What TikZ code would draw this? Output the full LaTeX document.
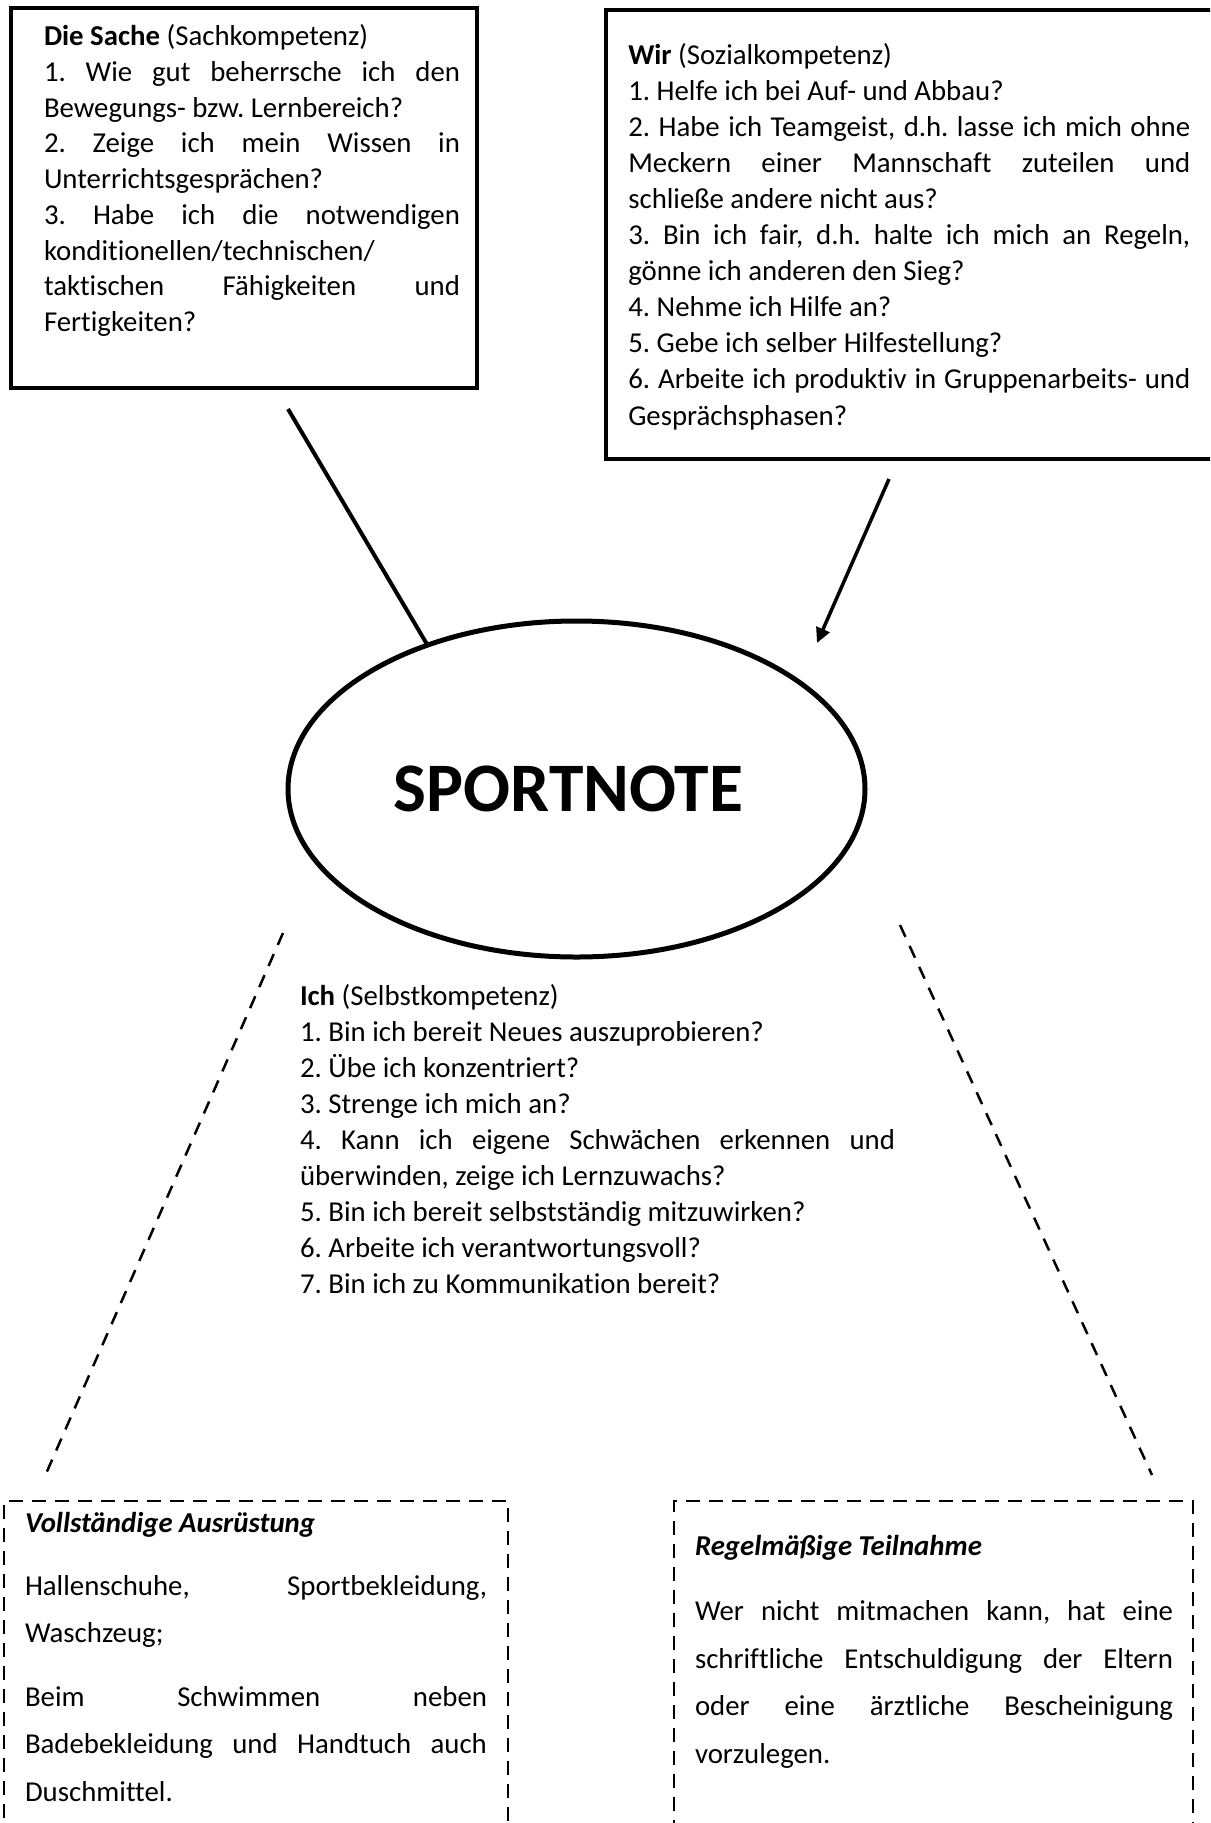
\documentclass[tikz,border=0pt]{standalone}
\usepackage{fontspec}
\setmainfont{Carlito}[Ligatures={NoCommon}]
\usetikzlibrary{shapes.geometric,arrows.meta}
\frenchspacing
\newcommand\jline[1]{\makebox[\linewidth][s]{#1}\par}
\newcommand\pline[1]{#1\par}
\begin{document}
\frenchspacing
\begin{tikzpicture}[x=1pt,y=-1pt,
  solidbox/.style={draw, line width=4pt, inner sep=0pt, outer sep=0pt, anchor=north west},
  dashbox/.style={draw, line width=2.5pt, dash pattern=on 14pt off 9pt, inner sep=0pt, outer sep=0pt, anchor=north west},
  txt/.style={anchor=base west, inner sep=0pt, outer sep=0pt},
  link/.style={line width=4pt},
  dlink/.style={line width=2.5pt, dash pattern=on 13pt off 10pt}]
\useasboundingbox (0,0) rectangle (1210,1823);
\clip (0,0) rectangle (1210,1823);
\fill[white] (0,0) rectangle (1210,1823);

% boxes
\node[solidbox, minimum width=466pt, minimum height=380pt] (sache) at (11,8) {};
\node[solidbox, minimum width=650pt, minimum height=449pt] (wir) at (605.7,10) {};
\node[dashbox, minimum width=504pt, minimum height=345pt] (ausr) at (4,1501) {};
\node[dashbox, minimum width=519pt, minimum height=345pt] (teil) at (674,1501) {};

% ellipse
\node[ellipse, draw, line width=5pt, minimum width=577pt, minimum height=336pt,
      inner sep=0pt, outer sep=0pt, font=\fontsize{69.5}{80}\selectfont\bfseries]
      (note) at (576.5,789) {\hspace*{-16pt}SPORTNOTE};

% texts
\node[txt] (sachetext) at (44,45.7) {\parbox[t]{416pt}{\fontsize{28.8}{35.75}\selectfont
\pline{\textbf{Die Sache} (Sachkompetenz)}
\jline{1. Wie gut beherrsche ich den}
\pline{Bewegungs- bzw. Lernbereich?}
\jline{2. Zeige ich mein Wissen in}
\pline{Unterrichtsgesprächen?}
\jline{3. Habe ich die notwendigen}
\pline{konditionellen/technischen/}
\jline{taktischen Fähigkeiten und}
\pline{Fertigkeiten?}}};

\node[txt] (wirtext) at (628.3,64) {\parbox[t]{562pt}{\fontsize{28.8}{36.1}\selectfont
\pline{\textbf{Wir} (Sozialkompetenz)}
\pline{1. Helfe ich bei Auf- und Abbau?}
\jline{2. Habe ich Teamgeist, d.h. lasse ich mich ohne}
\jline{Meckern einer Mannschaft zuteilen und}
\pline{schließe andere nicht aus?}
\jline{3. Bin ich fair, d.h. halte ich mich an Regeln,}
\pline{gönne ich anderen den Sieg?}
\pline{4. Nehme ich Hilfe an?}
\pline{5. Gebe ich selber Hilfestellung?}
\jline{6. Arbeite ich produktiv in Gruppenarbeits- und}
\pline{Gesprächsphasen?}}};

\node[txt] (ichtext) at (300,1005) {\parbox[t]{595pt}{\fontsize{28.8}{36}\selectfont
\pline{\textbf{Ich} (Selbstkompetenz)}
\pline{1. Bin ich bereit Neues auszuprobieren?}
\pline{2. Übe ich konzentriert?}
\pline{3. Strenge ich mich an?}
\jline{4. Kann ich eigene Schwächen erkennen und}
\pline{überwinden, zeige ich Lernzuwachs?}
\pline{5. Bin ich bereit selbstständig mitzuwirken?}
\pline{6. Arbeite ich verantwortungsvoll?}
\pline{7. Bin ich zu Kommunikation bereit?}}};

\node[txt] (ausrtext) at (25,1532) {\parbox[t]{462pt}{\fontsize{28.8}{47.2}\selectfont
\pline{\textbf{\textit{Vollständige Ausrüstung}}}
\vspace{16pt}
\jline{Hallenschuhe, Sportbekleidung,}
\pline{Waschzeug;}
\vspace{17pt}
\jline{Beim Schwimmen neben}
\jline{Badebekleidung und Handtuch auch}
\pline{Duschmittel.}}};

\node[txt] (teiltext) at (695,1555) {\parbox[t]{478pt}{\fontsize{28.8}{47.5}\selectfont
\pline{\textbf{\textit{Regelmäßige Teilnahme}}}
\vspace{18pt}
\jline{Wer nicht mitmachen kann, hat eine}
\jline{schriftliche Entschuldigung der Eltern}
\jline{oder eine ärztliche Bescheinigung}
\pline{vorzulegen.}}};

% connectors
\coordinate (c1) at (288,409);
\draw[link] (c1) -- (note.136);
\coordinate (a0) at (889,479);
\coordinate (a1) at (817,643);
\draw[line width=3.5pt, -{Triangle[length=15pt,width=14pt]}] (a0) -- (a1);
\coordinate (d1s) at (283,933);
\coordinate (d1e) at (45,1476);
\draw[dlink] (d1s) -- (d1e);
\coordinate (d2s) at (900,925);
\coordinate (d2e) at (1152,1475);
\draw[dlink] (d2s) -- (d2e);
\end{tikzpicture}
\end{document}
